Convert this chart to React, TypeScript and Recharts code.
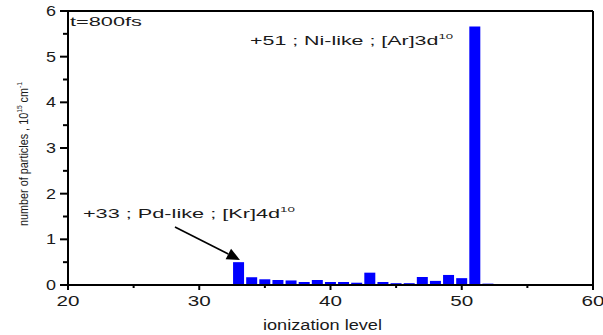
import React from 'react';
import { BarChart, Bar, XAxis, YAxis, ReferenceLine, ReferenceDot, Label } from 'recharts';

const levels = [33, 34, 35, 36, 37, 38, 39, 40, 41, 42, 43, 44, 45, 46, 47, 48, 49, 50, 51, 52];
const particles = [0.5, 0.17, 0.125, 0.11, 0.1, 0.066, 0.11, 0.066, 0.066, 0.05, 0.27, 0.066, 0.04, 0.04, 0.175, 0.09, 0.22, 0.15, 5.66, 0.03];
const xTicks = [20, 25, 30, 35, 40, 45, 50, 55, 60];
const yTicks = [0, 0.5, 1, 1.5, 2, 2.5, 3, 3.5, 4, 4.5, 5, 5.5, 6];
const xMajor = [20, 30, 40, 50, 60];
const yMajor = [0, 1, 2, 3, 4, 5, 6];

const data = levels.map((l, i) => ({ level: l, n: particles[i] }));

const FONT = '"Liberation Sans", Arial, sans-serif';
const INK = '#1a1a1a';

const YTick = (props: any) => {
  const { x, y, payload } = props;
  const v = payload.value;
  const major = yMajor.includes(v);
  const len = major ? 8 : 5;
  return (
    <g>
      <line x1={x} x2={x - len} y1={y} y2={y} stroke="#000" strokeWidth={2} />
      {major && (
        <text x={x - 12} y={y + 5} textAnchor="end" fontFamily={FONT} fontSize={14} fill={INK}
          textLength={10} lengthAdjust="spacingAndGlyphs">{String(v)}</text>
      )}
    </g>
  );
};

const XTick = (props: any) => {
  const { x, y, payload } = props;
  const v = payload.value;
  const major = xMajor.includes(v);
  const len = major ? 5 : 3;
  return (
    <g>
      <line x1={x} x2={x} y1={y} y2={y + len} stroke="#000" strokeWidth={2} />
      {major && (
        <text x={x} y={y + 21} textAnchor="middle" fontFamily={FONT} fontSize={14} fill={INK}
          textLength={23} lengthAdjust="spacingAndGlyphs">{String(v)}</text>
      )}
    </g>
  );
};

const YLabel = (props: any) => {
  const vb = props.viewBox || {};
  const cx = 28;
  const cy = (vb.y ?? 11) + (vb.height ?? 274) / 2 + 6;
  return (
    <text transform={`translate(${cx},${cy}) rotate(-90)`} textAnchor="middle" fontFamily={FONT}
      fontSize={13} fill={INK} textLength={144} lengthAdjust="spacingAndGlyphs">
      number of particles , 10<tspan fontSize={8} dy={-6}>15</tspan>
      <tspan dy={6}> cm</tspan><tspan fontSize={8} dy={-6}>-1</tspan>
    </text>
  );
};

const XLabel = (props: any) => {
  const vb = props.viewBox || {};
  const cx = (vb.x ?? 68) + (vb.width ?? 525) / 2 - 8;
  return (
    <text x={cx} y={330} textAnchor="middle" fontFamily={FONT} fontSize={14} fill={INK}
      textLength={119} lengthAdjust="spacingAndGlyphs">ionization level</text>
  );
};

const makeText = (parts: { main: string; sup?: string }, width: number, anchor: 'start' | 'end') => (p: any) => (
  <text x={p.cx} y={p.cy} textAnchor={anchor} fontFamily={FONT} fontSize={13} fill={INK}
    textLength={width} lengthAdjust="spacingAndGlyphs">
    {parts.main}
    {parts.sup && <tspan fontSize={8} dy={-6}>{parts.sup}</tspan>}
  </text>
);

const Arrow = (p: any) => {
  const { x1, y1, x2, y2 } = p;
  if ([x1, y1, x2, y2].some((v) => typeof v !== 'number')) return null;
  const dx = x2 - x1;
  const dy = y2 - y1;
  const L = Math.sqrt(dx * dx + dy * dy);
  const ux = dx / L;
  const uy = dy / L;
  const head = 13;
  const half = 6;
  const bx = x2 - ux * head;
  const by = y2 - uy * head;
  return (
    <g>
      <line x1={x1} y1={y1} x2={bx} y2={by} stroke="#000" strokeWidth={1.6} />
      <polygon points={`${x2},${y2} ${bx - uy * half},${by + ux * half} ${bx + uy * half},${by - ux * half}`} fill="#000" />
    </g>
  );
};

export default function App() {
  return (
    <div style={{ position: 'absolute', left: 0, top: 0, width: 603, height: 335, background: '#fff' }}>
      <BarChart width={603} height={335} data={data} margin={{ top: 11, right: 10, left: 0, bottom: 0 }}>
        <XAxis dataKey="level" type="number" domain={[20, 60]} ticks={xTicks} interval={0}
          allowDataOverflow height={50} tickLine={false} tickSize={0} tickMargin={0}
          axisLine={{ stroke: '#000', strokeWidth: 2 }} tick={<XTick />}>
          <Label content={<XLabel />} />
        </XAxis>
        <YAxis type="number" domain={[0, 6]} ticks={yTicks} interval={0} width={68}
          tickLine={false} tickSize={0} tickMargin={0}
          axisLine={{ stroke: '#000', strokeWidth: 2 }} tick={<YTick />}>
          <Label content={<YLabel />} />
        </YAxis>
        <ReferenceLine y={6} stroke="#000" strokeWidth={2} />
        <ReferenceLine x={60} stroke="#000" strokeWidth={2} />
        <Bar dataKey="n" fill="#0000ff" barSize={11} isAnimationActive={false} />
        <ReferenceDot x={20.15} y={5.68} r={0} shape={makeText({ main: 't=800fs' }, 72, 'start')} />
        <ReferenceDot x={33.87} y={5.26} r={0} shape={makeText({ main: '+51 ; Ni-like ; [Ar]3d', sup: '10' }, 203, 'start')} />
        <ReferenceDot x={21.14} y={1.47} r={0} shape={makeText({ main: '+33 ; Pd-like ; [Kr]4d', sup: '10' }, 212, 'start')} />
        <ReferenceLine segment={[{ x: 28.15, y: 1.27 }, { x: 33.1, y: 0.55 }]} shape={<Arrow />} />
      </BarChart>
    </div>
  );
}
